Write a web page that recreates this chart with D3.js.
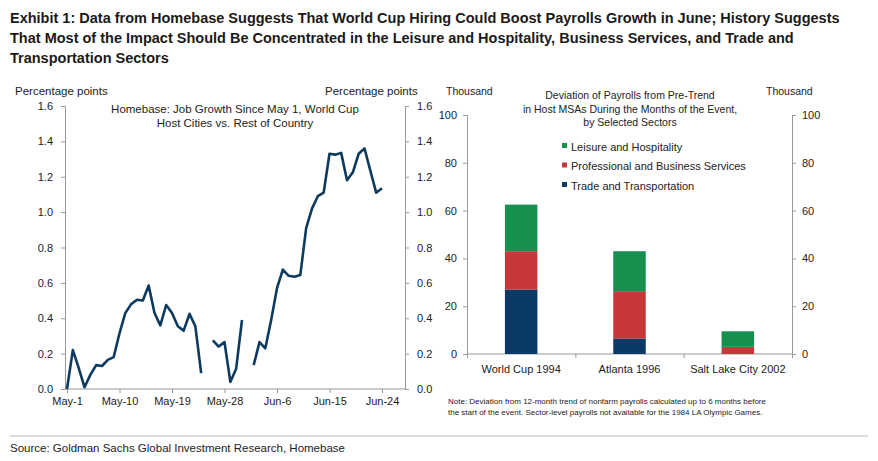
<!DOCTYPE html>
<html><head><meta charset="utf-8">
<script src="https://cdn.jsdelivr.net/npm/d3@7"></script>
<style>body{margin:0;background:#fff;font-family:Arial,"Liberation Sans",sans-serif;}</style>
</head><body><svg id="c" width="878" height="461"></svg>
<script>
// left panel: homebase job growth (null = gap)
var days = d3.range(0, 55);
var growth = [0,0.22,0.12,0.01,0.08,0.135,0.13,0.165,0.18,0.315,0.43,0.48,0.505,0.50,0.585,0.43,0.36,0.475,0.43,0.355,0.33,0.425,0.355,0.09,null,
  0.275,0.24,0.265,0.04,0.115,0.39,null,0.135,0.265,0.23,0.39,0.57,0.675,0.64,0.635,0.645,0.91,1.02,1.09,1.11,1.33,1.325,1.335,1.18,1.225,1.33,1.36,1.235,1.11,1.135];
var dayTicks = [0, 9, 18, 27, 36, 45, 54];
var dayLabels = ["May-1", "May-10", "May-19", "May-28", "Jun-6", "Jun-15", "Jun-24"];
var leftTicks = [0, 0.2, 0.4, 0.6, 0.8, 1.0, 1.2, 1.4, 1.6];

// right panel: payroll deviation by sector
var events = ["World Cup 1994", "Atlanta 1996", "Salt Lake City 2002"];
var sectors = ["Trade and Transportation", "Professional and Business Services", "Leisure and Hospitality"];
var trade = [27, 6.5, 0];
var business = [16, 19.5, 3];
var leisure = [19.5, 17, 6.5];
var colors = ["#0c3a66", "#c8373a", "#17904f"];

var svg = d3.select("#c");
var ink = "#222";

svg.append("text").attr("x", 10).attr("y", 0).attr("font-size", 14.5).attr("font-weight", "bold").attr("fill", "#1a1a1a")
  .selectAll("tspan").data([
    "Exhibit 1: Data from Homebase Suggests That World Cup Hiring Could Boost Payrolls Growth in June; History Suggests",
    "That Most of the Impact Should Be Concentrated in the Leisure and Hospitality, Business Services, and Trade and",
    "Transportation Sectors"]).join("tspan").attr("x", 10).attr("dy", function(d, i) { return i ? 20 : 23; }).text(function(d) { return d; });

svg.append("line").attr("x1", 10).attr("x2", 868).attr("y1", 436).attr("y2", 436).attr("stroke", "#bbb");
svg.append("text").attr("x", 10).attr("y", 452).attr("font-size", 11.5).attr("fill", ink)
  .text("Source: Goldman Sachs Global Investment Research, Homebase");

// ---- left chart
var x = d3.scaleLinear().domain([0, 54]).range([67, 382]);
var y = d3.scaleLinear().domain([0, 1.6]).range([389, 106]);
var g = svg.append("g").attr("font-size", 11).attr("fill", ink);

var ax = svg.append("g").attr("transform", "translate(65,0)").call(d3.axisLeft(y).tickValues(leftTicks).tickFormat(d3.format(".1f")).tickSize(4).tickPadding(8));
var ax2 = svg.append("g").attr("transform", "translate(405,0)").call(d3.axisRight(y).tickValues(leftTicks).tickFormat(d3.format(".1f")).tickSize(4).tickPadding(8));
var axb = svg.append("g").attr("transform", "translate(0,389)").call(d3.axisBottom(x).tickValues(dayTicks).tickFormat(function(d, i) { return dayLabels[i]; }).tickSize(4).tickPadding(4));
axb.select(".domain").attr("d", "M65,0H405");
[ax, ax2, axb].forEach(function(a) {
  a.selectAll("text").attr("font-size", 11).attr("fill", ink).attr("font-family", "Arial,'Liberation Sans',sans-serif");
  a.selectAll("line,.domain").attr("stroke", "#999");
});
svg.append("text").attr("x", 15).attr("y", 95).attr("font-size", 11.5).attr("fill", ink).text("Percentage points");
svg.append("text").attr("x", 325).attr("y", 95).attr("font-size", 11.5).attr("fill", ink).text("Percentage points");
svg.append("text").attr("text-anchor", "middle").attr("font-size", 11.5).attr("fill", ink)
  .selectAll("tspan").data(["Homebase: Job Growth Since May 1, World Cup", "Host Cities vs. Rest of Country"]).join("tspan")
  .attr("x", 235).attr("y", function(d, i) { return 113 + i * 14; }).text(function(d) { return d; });

svg.append("path").datum(days)
  .attr("fill", "none").attr("stroke", "#0d3a5f").attr("stroke-width", 2.6).attr("stroke-linejoin", "round")
  .attr("d", d3.line().defined(function(d) { return growth[d] != null; }).x(function(d) { return x(d); }).y(function(d) { return y(growth[d]); }));

// ---- right chart
var xb = d3.scaleBand().domain(events).range([467, 792]).paddingInner(0.7).paddingOuter(0.35);
var yb = d3.scaleLinear().domain([0, 100]).range([354, 115]);
var bl = svg.append("g").attr("transform", "translate(467,0)").call(d3.axisLeft(yb).ticks(5).tickSize(4).tickPadding(6));
var br = svg.append("g").attr("transform", "translate(792,0)").call(d3.axisRight(yb).ticks(5).tickSize(4).tickPadding(6));
var bb = svg.append("g").attr("transform", "translate(0,354)").call(d3.axisBottom(d3.scaleLinear().domain([0, 3]).range([467, 792])).ticks(3).tickFormat("").tickSize(4));
bb.select(".domain").attr("d", "M467,0H792");
[bl, br, bb].forEach(function(a) {
  a.selectAll("text").attr("font-size", 11).attr("fill", ink).attr("font-family", "Arial,'Liberation Sans',sans-serif");
  a.selectAll("line,.domain").attr("stroke", "#999");
});
svg.selectAll(".cat").data(events).join("text").attr("class", "cat")
  .attr("x", function(d) { return xb(d) + xb.bandwidth() / 2; }).attr("y", 373)
  .attr("text-anchor", "middle").attr("font-size", 11).attr("fill", ink).text(function(d) { return d; });
svg.append("text").attr("x", 446).attr("y", 95).attr("font-size", 10.5).attr("fill", ink).text("Thousand");
svg.append("text").attr("x", 766).attr("y", 95).attr("font-size", 10.5).attr("fill", ink).text("Thousand");
svg.append("text").attr("text-anchor", "middle").attr("font-size", 10.5).attr("fill", ink)
  .selectAll("tspan").data(["Deviation  of Payrolls from Pre-Trend", "in Host MSAs During  the Months of the Event,", "by Selected Sectors"]).join("tspan")
  .attr("x", 630).attr("y", function(d, i) { return 99 + i * 13.5; }).text(function(d) { return d; });

var table = events.map(function(e, i) { return { event: e, "Trade and Transportation": trade[i], "Professional and Business Services": business[i], "Leisure and Hospitality": leisure[i] }; });
var stack = d3.stack().keys(sectors)(table);
svg.append("g").selectAll("g").data(stack).join("g").attr("fill", function(d, i) { return colors[i]; })
  .selectAll("rect").data(function(d) { return d; }).join("rect")
  .attr("x", function(d) { return xb(d.data.event); }).attr("width", xb.bandwidth())
  .attr("y", function(d) { return yb(d[1]); }).attr("height", function(d) { return yb(d[0]) - yb(d[1]); });

var leg = svg.append("g").selectAll("g").data(sectors.slice().reverse()).join("g")
  .attr("transform", function(d, i) { return "translate(562," + (147 + i * 19.5) + ")"; });
leg.append("rect").attr("x", 0).attr("y", -4).attr("width", 5).attr("height", 5).attr("fill", function(d, i) { return colors[2 - i]; });
leg.append("text").attr("x", 9).attr("y", 0).attr("dy", "0.35em").attr("font-size", 11).attr("fill", ink).text(function(d) { return d; });

svg.append("text").attr("font-size", 8).attr("fill", ink)
  .selectAll("tspan").data(["Note: Deviation  from 12-month trend of nonfarm payrolls calculated up to 6 months before", "the start of the event. Sector-level payrolls not available for the 1984 LA Olympic Games."]).join("tspan")
  .attr("x", 448).attr("y", function(d, i) { return 404 + i * 11; }).text(function(d) { return d; });
</script></body></html>
